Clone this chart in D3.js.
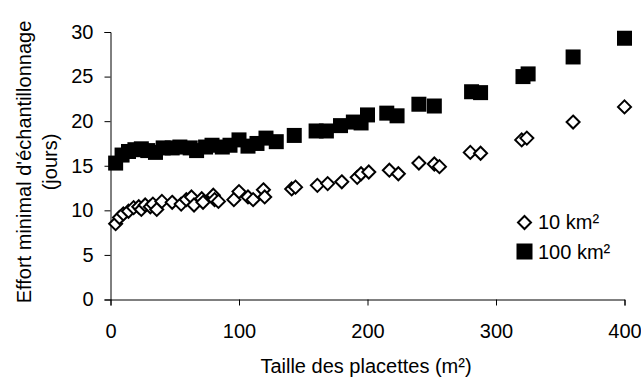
<!DOCTYPE html>
<html>
<head>
<meta charset="utf-8">
<script src="https://cdn.jsdelivr.net/npm/d3@7"></script>
<style>
  body { margin: 0; background: #fff; }
  text { font-family: "Liberation Sans", Arial, sans-serif; }
</style>
</head>
<body>
<svg id="chart" width="641" height="378"></svg>
<script>
// plot size (m²) vs minimal sampling effort (days)
const small = [ // 10 km²
  [4, 8.5], [7, 9.2], [10, 9.6], [14, 9.9], [18, 10.3], [22, 10.4], [24, 10.1], [27, 10.6],
  [31, 10.4], [33, 10.7], [36, 10.1], [40, 11.0], [48, 10.9], [55, 10.7], [59, 11.2], [63, 11.5],
  [65, 10.6], [71, 11.3], [72, 10.9], [80, 11.7], [81, 11.2], [84, 11.0], [96, 11.2], [100, 12.1],
  [107, 11.5], [111, 11.2], [119, 12.3], [120, 11.5], [141, 12.4], [144, 12.6], [161, 12.8],
  [169, 13.0], [180, 13.2], [192, 13.7], [195, 14.1], [201, 14.3], [217, 14.5], [224, 14.1],
  [240, 15.3], [252, 15.2], [256, 14.9], [280, 16.5], [288, 16.4], [320, 17.9], [324, 18.1],
  [360, 19.9], [400, 21.6]
];
const large = [ // 100 km²
  [4, 15.3], [9, 16.2], [14, 16.6], [19, 16.8], [24, 16.9], [29, 16.7], [35, 16.5], [41, 17.0],
  [48, 17.0], [54, 17.1], [62, 17.0], [67, 16.7], [74, 17.1], [79, 17.3], [87, 17.1], [93, 17.3],
  [100, 17.9], [107, 17.2], [114, 17.5], [121, 18.1], [129, 17.7], [143, 18.4], [160, 18.9],
  [168, 18.9], [179, 19.5], [189, 19.9], [195, 19.8], [200, 20.7], [215, 20.9], [223, 20.6],
  [240, 21.9], [252, 21.7], [281, 23.3], [288, 23.2], [321, 25.0], [325, 25.3], [360, 27.2],
  [400, 29.3]
];
const xTicks = [0, 100, 200, 300, 400];
const yTicks = [0, 5, 10, 15, 20, 25, 30];
const seriesNames = ["10 km²", "100 km²"];

const svg = d3.select("#chart");
const plot = { left: 110.5, right: 624.5, top: 32, bottom: 299.5 };
const fs = 20;

const x = d3.scaleLinear().domain([0, 400]).range([plot.left, plot.right]);
const y = d3.scaleLinear().domain([0, 30]).range([plot.bottom, plot.top]);

// axes
const xAxis = svg.append("g")
  .attr("transform", "translate(0," + plot.bottom + ")")
  .call(d3.axisBottom(x).tickValues(xTicks).tickSizeOuter(0).tickSize(6).tickPadding(18));
const yAxis = svg.append("g")
  .attr("transform", "translate(" + plot.left + ",0)")
  .call(d3.axisLeft(y).tickValues(yTicks).tickSizeOuter(0).tickSize(6).tickPadding(11));

[xAxis, yAxis].forEach(a => {
  a.selectAll("path, line").attr("stroke", "#000").attr("stroke-width", 1);
  a.selectAll("text").attr("font-size", fs).attr("fill", "#000")
    .style("font-family", "'Liberation Sans', Arial, sans-serif");
});

// axis titles
svg.append("text")
  .attr("x", 366).attr("y", 373)
  .attr("text-anchor", "middle").attr("font-size", fs)
  .text("Taille des placettes (m²)");

const yt = svg.append("text")
  .attr("transform", "translate(31,162) rotate(-90)")
  .attr("text-anchor", "middle").attr("font-size", fs);
yt.append("tspan").attr("x", 0).attr("dy", 0).text("Effort minimal d'échantillonnage");
yt.append("tspan").attr("x", 0).attr("dy", 26).text("(jours)");

// markers
const diamond = s => `M0,${-s}L${s},0L0,${s}L${-s},0Z`;

svg.append("g").selectAll("rect")
  .data(large)
  .join("rect")
  .attr("x", d => x(d[0]) - 7.5)
  .attr("y", d => y(d[1]) - 7.5)
  .attr("width", 15).attr("height", 15)
  .attr("fill", "#000");

svg.append("g").selectAll("path")
  .data(small)
  .join("path")
  .attr("transform", d => "translate(" + x(d[0]) + "," + y(d[1]) + ")")
  .attr("d", diamond(6.5))
  .attr("fill", "#fff").attr("stroke", "#000").attr("stroke-width", 2);

// legend
const lg = svg.append("g").attr("transform", "translate(524.5,0)");
lg.append("path").attr("transform", "translate(0,222.5)").attr("d", diamond(6.5))
  .attr("fill", "#fff").attr("stroke", "#000").attr("stroke-width", 2);
lg.append("rect").attr("x", -8).attr("y", 243.5).attr("width", 16).attr("height", 16).attr("fill", "#000");
lg.append("text").attr("x", 13.5).attr("y", 229).attr("font-size", fs).text(seriesNames[0]);
lg.append("text").attr("x", 13.5).attr("y", 259).attr("font-size", fs).text(seriesNames[1]);
</script>
</body>
</html>
